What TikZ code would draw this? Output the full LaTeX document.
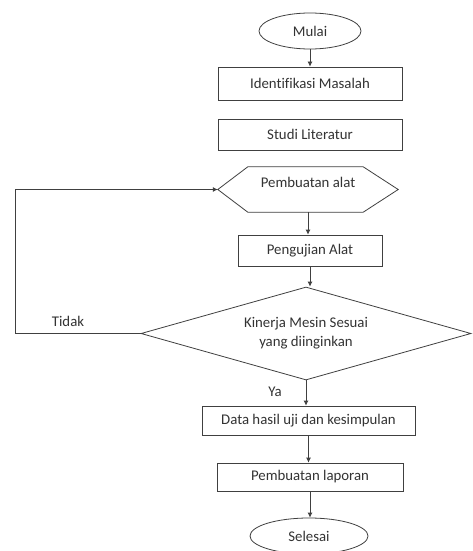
\documentclass[tikz,border=0pt]{standalone}
\usepackage{fontspec}
\setmainfont[Ligatures=NoCommon]{Carlito}
\usetikzlibrary{arrows.meta,shapes.geometric,calc}
\begin{document}
\begin{tikzpicture}[x=1pt,y=-1pt,
  every node/.style={font=\fontsize{14.8}{19}\selectfont, text=black!80},
  line/.style={draw=black!75, line width=0.8pt},
  arr/.style={line, -{Latex[length=5pt,width=5pt]}},
  procbox/.style={line, rectangle, inner sep=0pt},
  term/.style={line, ellipse, inner sep=0pt},
  lbl/.style={inner sep=0pt}]
\useasboundingbox[fill=white] (0,0) rectangle (472,551);

\node[term, minimum width=102, minimum height=36] (mulai) at (310,31) {Mulai};
\node[procbox, minimum width=184, minimum height=33] (ident) at (310,83.5) {Identifikasi Masalah};
\node[procbox, minimum width=184, minimum height=31] (studi) at (310,134.5) {Studi Literatur};
\node[inner sep=0pt, minimum width=180, minimum height=45] (hex) at (308,189.5) {};
\draw[line] (hex.west) -- ($(hex.north west)+(30,0)$) -- ($(hex.north east)+(-35,0)$)
  -- (hex.east) -- ($(hex.south east)+(-35,0)$) -- ($(hex.south west)+(30,0)$) -- cycle;
\node[lbl] (hextxt) at (308,182) {Pembuatan alat};
\node[procbox, minimum width=144, minimum height=31] (uji) at (310,250.5) {Pengujian Alat};
\node[line, diamond, inner sep=0pt, minimum width=330, minimum height=93, aspect=3.55,
  align=center] (dec) at (306,333.5) {Kinerja Mesin Sesuai\\yang diinginkan};
\node[procbox, minimum width=213, minimum height=29] (data) at (308.5,420.5) {Data hasil uji dan kesimpulan};
\node[procbox, minimum width=186, minimum height=28] (lap) at (310,477) {Pembuatan laporan};
\node[term, minimum width=118, minimum height=36] (selesai) at (309,536) {Selesai};

\node[lbl] (tidak) at (68,321) {Tidak};
\node[lbl] (ya) at (275,392) {Ya};
\coordinate (fb) at (15,333.5);

\draw[arr] (mulai.south) -- (mulai.south |- ident.north);
\draw[arr] (hex.south) -- (hex.south |- uji.north);
\draw[arr] (uji.south) -- (uji.south |- dec.north);
\draw[arr] (dec.south) -- (dec.south |- data.north);
\draw[arr] (data.south) -- (data.south |- lap.north);
\draw[arr] (lap.south) -- (lap.south |- selesai.north);
\draw[arr] (dec.west) -- (fb) |- (hex.west);
\end{tikzpicture}
\end{document}
